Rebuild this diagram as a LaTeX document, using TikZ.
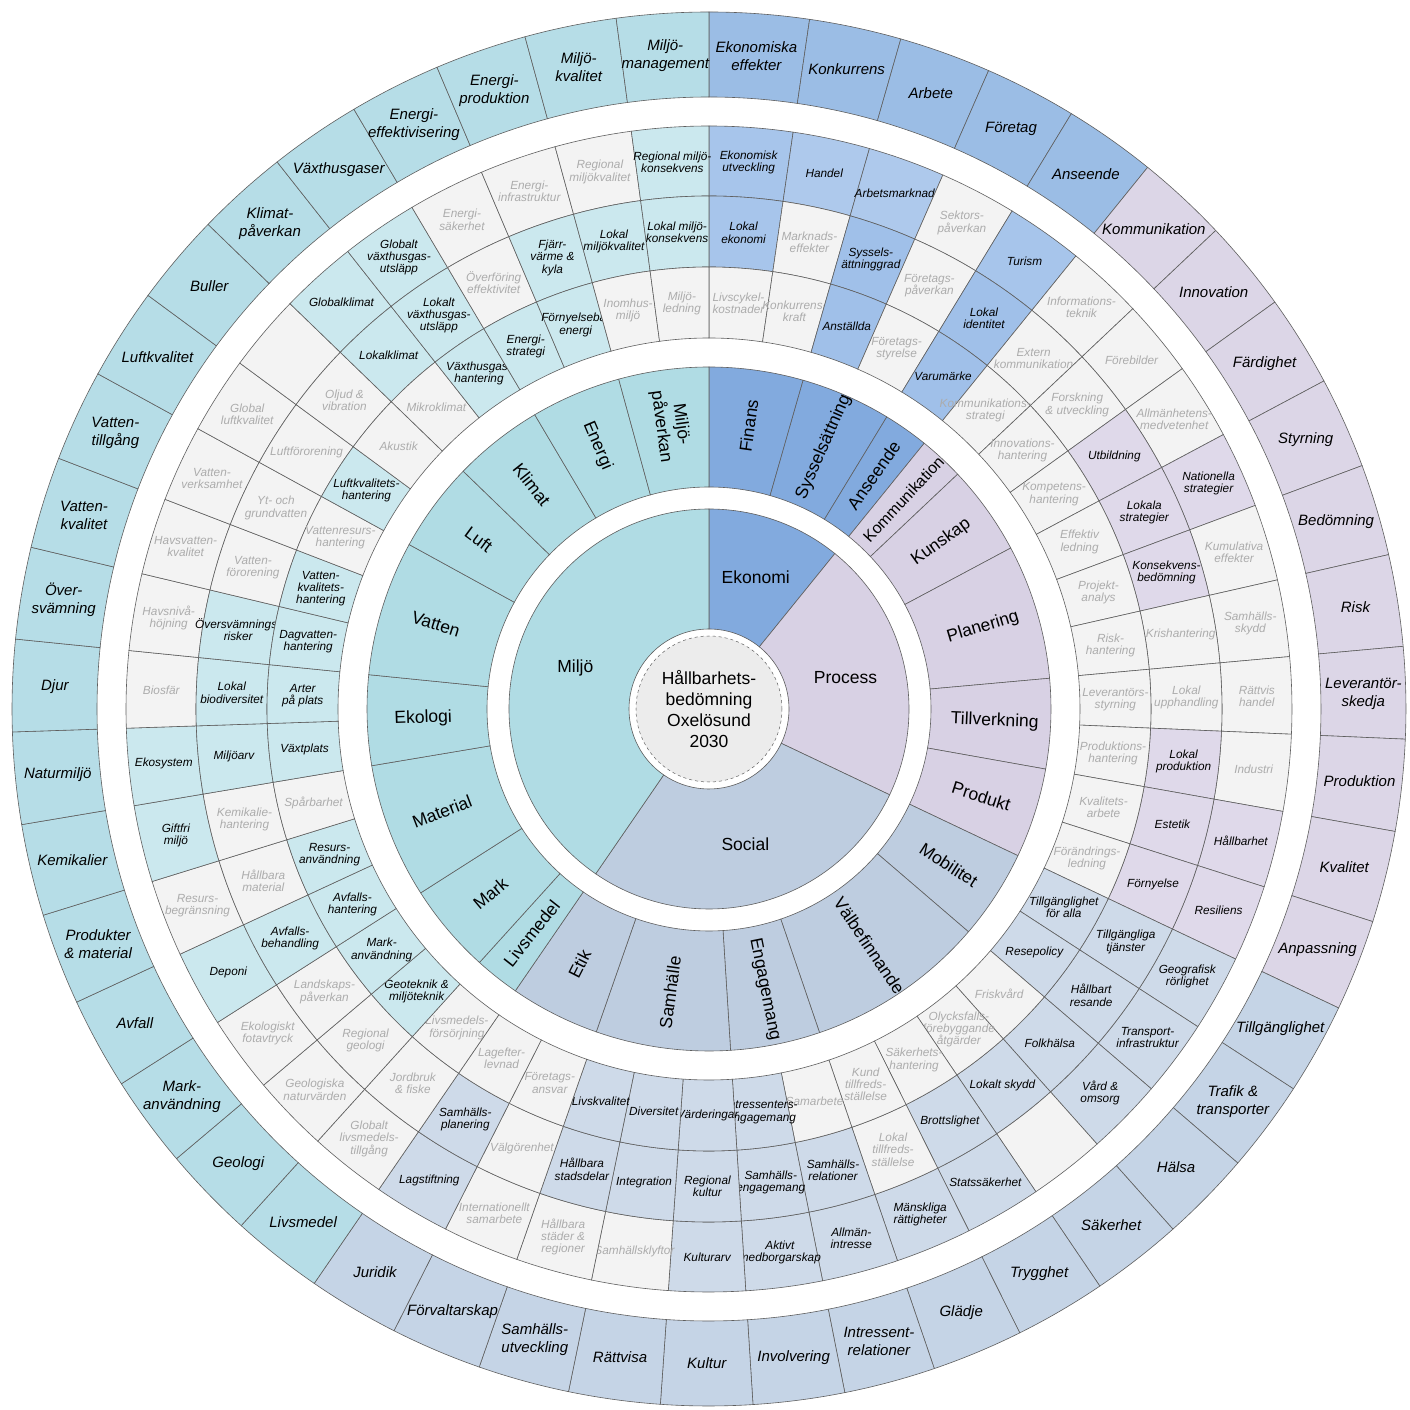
\documentclass[tikz,border=0pt]{standalone}
\usepackage{fontspec}
\setmainfont{Liberation Sans}
\definecolor{cline}{RGB}{95,95,95}
\definecolor{gcell}{RGB}{243,243,243}
\definecolor{gtext}{RGB}{172,172,172}
\definecolor{milI}{RGB}{176,220,228}
\definecolor{milO}{RGB}{182,221,231}
\definecolor{milT}{RGB}{203,232,238}
\definecolor{ekoI}{RGB}{130,170,222}
\definecolor{ekoO}{RGB}{155,189,229}
\definecolor{ekoT1}{RGB}{167,197,235}
\definecolor{ekoT2}{RGB}{174,201,236}
\definecolor{ekoT3}{RGB}{160,192,233}
\definecolor{proI}{RGB}{216,209,228}
\definecolor{proO}{RGB}{220,214,231}
\definecolor{proT}{RGB}{223,217,234}
\definecolor{socI}{RGB}{190,205,224}
\definecolor{socO}{RGB}{197,212,230}
\definecolor{socT}{RGB}{206,218,233}
\definecolor{cgray}{RGB}{236,236,236}

\newcommand\setbd[2]{\expandafter\def\csname bd#1\endcsname{#2}}
\setbd{0}{0}\setbd{1}{8.3}\setbd{2}{15.975}\setbd{3}{23.65}\setbd{4}{31.325}\setbd{5}{39.0}
\setbd{6}{46.64}\setbd{7}{54.28}\setbd{8}{61.92}\setbd{9}{69.56}\setbd{10}{77.2}
\setbd{11}{84.84}\setbd{12}{92.48}\setbd{13}{100.12}\setbd{14}{107.76}\setbd{15}{115.4}
\setbd{16}{123.02}\setbd{17}{130.65}\setbd{18}{138.27}\setbd{19}{145.89}\setbd{20}{153.52}
\setbd{21}{161.14}\setbd{22}{168.76}\setbd{23}{176.38}\setbd{24}{184.0}\setbd{25}{191.63}
\setbd{26}{199.25}\setbd{27}{206.87}\setbd{28}{214.5}\setbd{29}{222.16}\setbd{30}{229.82}
\setbd{31}{237.47}\setbd{32}{245.13}\setbd{33}{252.79}\setbd{34}{260.45}\setbd{35}{268.11}
\setbd{36}{275.76}\setbd{37}{283.42}\setbd{38}{291.08}\setbd{39}{298.74}\setbd{40}{306.4}
\setbd{41}{314.05}\setbd{42}{321.71}\setbd{43}{329.37}\setbd{44}{337.03}\setbd{45}{344.69}
\setbd{46}{352.34}\setbd{47}{360}

\def\rshift{0}
\newcommand\seg[8]{%
  \edef\sbA{\csname bd#1\endcsname}%
  \edef\sbB{\csname bd#2\endcsname}%
  \pgfmathsetmacro\spA{90-\sbA}%
  \pgfmathsetmacro\spB{90-\sbB}%
  \pgfmathsetmacro\spM{(\spA+\spB)/2}%
  \pgfmathsetmacro\srM{(#3+#4)/2+\rshift}%
  \pgfmathsetmacro\srot{(cos(\spM)>0) ? (\spM) : (\spM+180)}%
  \draw[cell,#5] (\spA:#3) -- (\spA:#4) arc[start angle=\spA,end angle=\spB,radius=#4 pt] -- (\spB:#3) arc[start angle=\spB,end angle=\spA,radius=#3 pt] -- cycle;
  \node[#6] (#8) at (\spM:\srM) {#7};%
}
\newcommand\tcell[4]{%
  \pgfmathtruncatemacro\kk{#1-1}%
  \ifcase#2\or\def\rI{371}\def\rO{442}\or\def\rI{442}\def\rO{513}\or\def\rI{513}\def\rO{583}\fi
  \seg{\kk}{#1}{\rI}{\rO}{c#3}{t#3}{#4}{t#1x#2}}
\newcommand\tcol[7]{\tcell{#1}{3}{#2}{#3}\tcell{#1}{2}{#4}{#5}\tcell{#1}{1}{#6}{#7}}
\newcommand\ocell[3]{\pgfmathtruncatemacro\kk{#1-1}\seg{\kk}{#1}{612}{697}{o#2}{otext}{#3}{o#1}}
\newcommand\sring[5]{\seg{#1}{#2}{222}{342}{s#3}{stext}{#4}{s#5}}

\begin{document}
\begin{tikzpicture}[x=1pt,y=1pt,
  cell/.style={draw=cline,line width=0.6pt},
  third/.style={font=\fontsize{11.8}{12.2}\selectfont\itshape,align=center,inner sep=0pt,text=black},
  otext/.style={font=\fontsize{15}{18}\selectfont\itshape,align=center,inner sep=0pt},
  stext/.style={font=\fontsize{17.5}{20}\selectfont,align=center,inner sep=0pt,rotate=\srot},
  smaller/.style={font=\fontsize{16}{19}\selectfont},
  itext/.style={font=\fontsize{17.5}{21}\selectfont,align=center,inner sep=0pt},
  cG/.style={fill=gcell}, tG/.style={third,text=gtext},
  cE1/.style={fill=ekoT1}, tE1/.style={third},
  cE2/.style={fill=ekoT2}, tE2/.style={third},
  cE3/.style={fill=ekoT3}, tE3/.style={third},
  cP/.style={fill=proT}, tP/.style={third},
  cS/.style={fill=socT}, tS/.style={third},
  cM/.style={fill=milT}, tM/.style={third},
  oE/.style={fill=ekoO}, oP/.style={fill=proO}, oS/.style={fill=socO}, oM/.style={fill=milO},
  sE/.style={fill=ekoI}, sP/.style={fill=proI}, sS/.style={fill=socI}, sM/.style={fill=milI}]
\useasboundingbox (-709,-701) rectangle (701,709);
\fill[white] (-709,-701) rectangle (701,709);

% outer ring
\ocell{1}{E}{Ekonomiska\\effekter}
\ocell{2}{E}{Konkurrens}
\ocell{3}{E}{Arbete}
\ocell{4}{E}{Företag}
\ocell{5}{E}{Anseende}
\ocell{6}{P}{Kommunikation}
\ocell{7}{P}{Innovation}
\ocell{8}{P}{Färdighet}
\ocell{9}{P}{Styrning}
\ocell{10}{P}{Bedömning}
\ocell{11}{P}{Risk}
\ocell{12}{P}{Leverantör-\\skedja}
\ocell{13}{P}{Produktion}
\ocell{14}{P}{Kvalitet}
\ocell{15}{P}{Anpassning}
\ocell{16}{S}{Tillgänglighet}
\ocell{17}{S}{Trafik \&\\transporter}
\ocell{18}{S}{Hälsa}
\ocell{19}{S}{Säkerhet}
\ocell{20}{S}{Trygghet}
\ocell{21}{S}{Glädje}
\ocell{22}{S}{Intressent-\\relationer}
\ocell{23}{S}{Involvering}
\ocell{24}{S}{Kultur}
\ocell{25}{S}{Rättvisa}
\ocell{26}{S}{Samhälls-\\utveckling}
\ocell{27}{S}{Förvaltarskap}
\ocell{28}{S}{Juridik}
\ocell{29}{M}{Livsmedel}
\ocell{30}{M}{Geologi}
\ocell{31}{M}{Mark-\\användning}
\ocell{32}{M}{Avfall}
\ocell{33}{M}{Produkter\\\& material}
\ocell{34}{M}{Kemikalier}
\ocell{35}{M}{Naturmiljö}
\ocell{36}{M}{Djur}
\ocell{37}{M}{Över-\\svämning}
\ocell{38}{M}{Vatten-\\kvalitet}
\ocell{39}{M}{Vatten-\\tillgång}
\ocell{40}{M}{Luftkvalitet}
\ocell{41}{M}{Buller}
\ocell{42}{M}{Klimat-\\påverkan}
\ocell{43}{M}{Växthusgaser}
\ocell{44}{M}{Energi-\\effektivisering}
\ocell{45}{M}{Energi-\\produktion}
\ocell{46}{M}{Miljö-\\kvalitet}
\ocell{47}{M}{Miljö-\\management}

% third ring
\tcol{1}{E1}{Ekonomisk\\utveckling}{E1}{Lokal\\ekonomi}{G}{Livscykel-\\kostnader}
\tcol{2}{E2}{Handel}{G}{Marknads-\\effekter}{G}{Konkurrens-\\kraft}
\tcol{3}{E2}{Arbetsmarknad}{E3}{Syssels-\\ättninggrad}{E3}{Anställda}
\tcol{4}{G}{Sektors-\\påverkan}{G}{Företags-\\påverkan}{G}{Företags-\\styrelse}
\tcol{5}{E1}{Turism}{E3}{Lokal\\identitet}{E3}{Varumärke}
\tcol{6}{G}{Informations-\\teknik}{G}{Extern\\kommunikation}{G}{Kommunikations-\\strategi}
\tcol{7}{G}{Förebilder}{G}{Forskning\\\& utveckling}{G}{Innovations-\\hantering}
\tcol{8}{G}{Allmänhetens-\\medvetenhet}{P}{Utbildning}{G}{Kompetens-\\hantering}
\tcol{9}{P}{Nationella\\strategier}{P}{Lokala\\strategier}{G}{Effektiv\\ledning}
\tcol{10}{G}{Kumulativa\\effekter}{P}{Konsekvens-\\bedömning}{G}{Projekt-\\analys}
\tcol{11}{G}{Samhälls-\\skydd}{G}{Krishantering}{G}{Risk-\\hantering}
\tcol{12}{G}{Rättvis\\handel}{G}{Lokal\\upphandling}{G}{Leverantörs-\\styrning}
\tcol{13}{G}{Industri}{P}{Lokal\\produktion}{G}{Produktions-\\hantering}
\tcol{14}{P}{Hållbarhet}{P}{Estetik}{G}{Kvalitets-\\arbete}
\tcol{15}{P}{Resiliens}{P}{Förnyelse}{G}{Förändrings-\\ledning}
\tcol{16}{S}{Geografisk\\rörlighet}{S}{Tillgängliga\\tjänster}{S}{Tillgänglighet\\för alla}
\tcol{17}{S}{Transport-\\infrastruktur}{S}{Hållbart\\resande}{S}{Resepolicy}
\tcol{18}{S}{Vård \&\\omsorg}{S}{Folkhälsa}{G}{Friskvård}
\tcol{19}{G}{}{S}{Lokalt skydd}{G}{Olycksfalls-\\förebyggande\\åtgärder}
\tcol{20}{S}{Statssäkerhet}{S}{Brottslighet}{G}{Säkerhets-\\hantering}
\tcol{21}{S}{Mänskliga\\rättigheter}{G}{Lokal\\tillfreds-\\ställelse}{G}{Kund\\tillfreds-\\ställelse}
\tcol{22}{S}{Allmän-\\intresse}{S}{Samhälls-\\relationer}{G}{Samarbete}
\tcol{23}{S}{Aktivt\\medborgarskap}{S}{Samhälls-\\engagemang}{S}{Intressenters-\\engagemang}
\tcol{24}{S}{Kulturarv}{S}{Regional\\kultur}{S}{Värderingar}
\tcol{25}{G}{Samhällsklyftor}{S}{Integration}{S}{Diversitet}
\tcol{26}{G}{Hållbara\\städer \&\\regioner}{S}{Hållbara\\stadsdelar}{S}{Livskvalitet}
\tcol{27}{G}{Internationellt\\samarbete}{G}{Välgörenhet}{G}{Företags-\\ansvar}
\tcol{28}{S}{Lagstiftning}{S}{Samhälls-\\planering}{G}{Lagefter-\\levnad}
\tcol{29}{G}{Globalt\\livsmedels-\\tillgång}{G}{Jordbruk\\\& fiske}{G}{Livsmedels-\\försörjning}
\tcol{30}{G}{Geologiska\\naturvärden}{G}{Regional\\geologi}{M}{Geoteknik \&\\miljöteknik}
\tcol{31}{G}{Ekologiskt\\fotavtryck}{G}{Landskaps-\\påverkan}{M}{Mark-\\användning}
\tcol{32}{M}{Deponi}{M}{Avfalls-\\behandling}{M}{Avfalls-\\hantering}
\tcol{33}{G}{Resurs-\\begränsning}{G}{Hållbara\\material}{M}{Resurs-\\användning}
\tcol{34}{M}{Giftfri\\miljö}{G}{Kemikalie-\\hantering}{G}{Spårbarhet}
\tcol{35}{M}{Ekosystem}{M}{Miljöarv}{M}{Växtplats}
\tcol{36}{G}{Biosfär}{M}{Lokal\\biodiversitet}{M}{Arter\\på plats}
\tcol{37}{G}{Havsnivå-\\höjning}{M}{Översvämnings-\\risker}{M}{Dagvatten-\\hantering}
\tcol{38}{G}{Havsvatten-\\kvalitet}{G}{Vatten-\\förorening}{M}{Vatten-\\kvalitets-\\hantering}
\tcol{39}{G}{Vatten-\\verksamhet}{G}{Yt- och\\grundvatten}{G}{Vattenresurs-\\hantering}
\tcol{40}{G}{Global\\luftkvalitet}{G}{Luftförorening}{M}{Luftkvalitets-\\hantering}
\tcol{41}{G}{}{G}{Oljud \&\\vibration}{G}{Akustik}
\tcol{42}{M}{Globalklimat}{M}{Lokalklimat}{G}{Mikroklimat}
\tcol{43}{M}{Globalt\\växthusgas-\\utsläpp}{M}{Lokalt\\växthusgas-\\utsläpp}{M}{Växthusgas-\\hantering}
\tcol{44}{G}{Energi-\\säkerhet}{G}{Överföring\\effektivitet}{M}{Energi-\\strategi}
\tcol{45}{G}{Energi-\\infrastruktur}{M}{Fjärr-\\värme \&\\kyla}{M}{Förnyelsebar\\energi}
\tcol{46}{G}{Regional\\miljökvalitet}{M}{Lokal\\miljökvalitet}{G}{Inomhus-\\miljö}
\tcol{47}{M}{Regional miljö-\\konsekvens}{M}{Lokal miljö-\\konsekvens}{G}{Miljö-\\ledning}

% second ring
\def\rshift{4}
\sring{0}{2}{E}{Finans}{Fin}
\sring{2}{4}{E}{Sysselsättning}{Sys}
\sring{4}{5}{E}{Anseende}{Ans}
\seg{5}{6}{222}{342}{sP}{stext,smaller}{Kommunikation}{sKom}
\sring{6}{8}{P}{Kunskap}{Kun}
\sring{8}{11}{P}{Planering}{Pla}
\sring{11}{13}{P}{Tillverkning}{Til}
\sring{13}{15}{P}{Produkt}{Pro}
\sring{15}{17}{S}{Mobilitet}{Mob}
\sring{17}{21}{S}{Välbefinnande}{Val}
\sring{21}{23}{S}{Engagemang}{Eng}
\sring{23}{26}{S}{Samhälle}{Sam}
\sring{26}{28}{S}{Etik}{Eti}
\sring{28}{29}{M}{Livsmedel}{Liv}
\sring{29}{31}{M}{Mark}{Mar}
\sring{31}{34}{M}{Material}{Mat}
\sring{34}{36}{M}{Ekologi}{Eko}
\sring{36}{39}{M}{Vatten}{Vat}
\sring{39}{41}{M}{Luft}{Luf}
\sring{41}{43}{M}{Klimat}{Kli}
\sring{43}{45}{M}{Energi}{Ene}
\sring{45}{47}{M}{Miljö-\\påverkan}{Mpa}

% inner ring
\def\rshift{0}
\seg{0}{5}{80}{200}{sE}{itext}{Ekonomi}{iEko}
\seg{5}{15}{80}{200}{sP}{itext}{Process}{iPro}
\seg{15}{28}{80}{200}{sS}{itext}{Social}{iSoc}
\seg{28}{47}{80}{200}{sM}{itext}{Miljö}{iMil}

% centre
\node[circle,fill=cgray,draw=cline,dashed,line width=0.5pt,minimum size=146pt,inner sep=0pt,align=center,font=\fontsize{17.5}{21}\selectfont] (ctr) at (0,0) {Hållbarhets-\\bedömning\\Oxelösund\\2030};
\end{tikzpicture}
\end{document}
